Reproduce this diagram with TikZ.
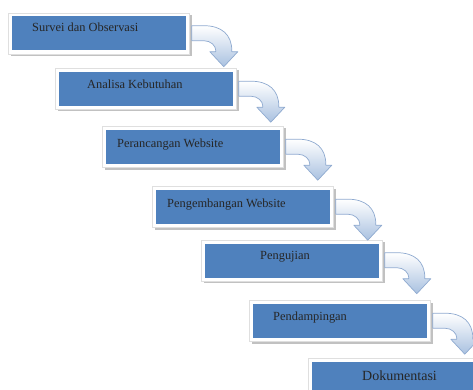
\documentclass[tikz,border=0pt]{standalone}
\usepackage{fontspec}
\setmainfont{Liberation Serif}
\usetikzlibrary{shadows}
\definecolor{boxblue}{HTML}{4F81BD}
\definecolor{arrowfill}{HTML}{A9C1E0}
\definecolor{arrowline}{HTML}{8FAAD0}
\tikzset{
  stepbox/.style={rectangle, minimum width=181pt, minimum height=41pt, inner sep=0pt,
    fill=white, draw=gray!25, line width=0.6pt,
    drop shadow={shadow xshift=2pt, shadow yshift=-2pt, fill=gray!70, opacity=0.7},
    path picture={\fill[boxblue] ([shift={(3.5pt,-3.5pt)}]path picture bounding box.north west) rectangle ([shift={(-3.5pt,3.5pt)}]path picture bounding box.south east);}},
  steptext/.style={anchor=base west, inner sep=0pt, font=\fontsize{12.4}{14}\selectfont, text=black!85},
  bendarrow/.style={draw=arrowline, line width=0.7pt, top color=white, bottom color=arrowfill, line join=round}
}
\newcommand{\flowarrow}[1]{%
  \begin{scope}[shift={(#1.north east)}]
    \path[bendarrow] (2,13) -- (14,13) .. controls (32,13) and (42,22) .. (42,38) -- (42,39)
      -- (48,39) -- (34,54) -- (20,39) -- (26,39) -- (26,38)
      .. controls (26,33) and (21,28) .. (14,28) -- (2,28) -- cycle;
  \end{scope}}
\begin{document}
\begin{tikzpicture}[x=1pt,y=-1pt]
\useasboundingbox (0,0) rectangle (473,390);
\clip (0,0) rectangle (473,390);
\node[stepbox] (b1) at (99,33.5) {};
\node[stepbox] (b2) at (146,89) {};
\node[stepbox] (b3) at (193,147) {};
\node[stepbox] (b4) at (243,207) {};
\node[stepbox] (b5) at (292,260.5) {};
\node[stepbox] (b6) at (340,321) {};
\node[stepbox] (b7) at (398.5,378.5) {};
\flowarrow{b1}
\flowarrow{b2}
\flowarrow{b3}
\flowarrow{b4}
\flowarrow{b5}
\flowarrow{b6}
\node[steptext] (t1) at (32,32) {Survei dan Observasi};
\node[steptext] (t2) at (87,89) {Analisa Kebutuhan};
\node[steptext] (t3) at (117,147) {Perancangan Website};
\node[steptext] (t4) at (167,207) {Pengembangan Website};
\node[steptext] (t5) at (260,259) {Pengujian};
\node[steptext] (t6) at (273,320) {Pendampingan};
\node[steptext, font=\fontsize{14}{16}\selectfont] (t7) at (362,380) {Dokumentasi};
\end{tikzpicture}
\end{document}
